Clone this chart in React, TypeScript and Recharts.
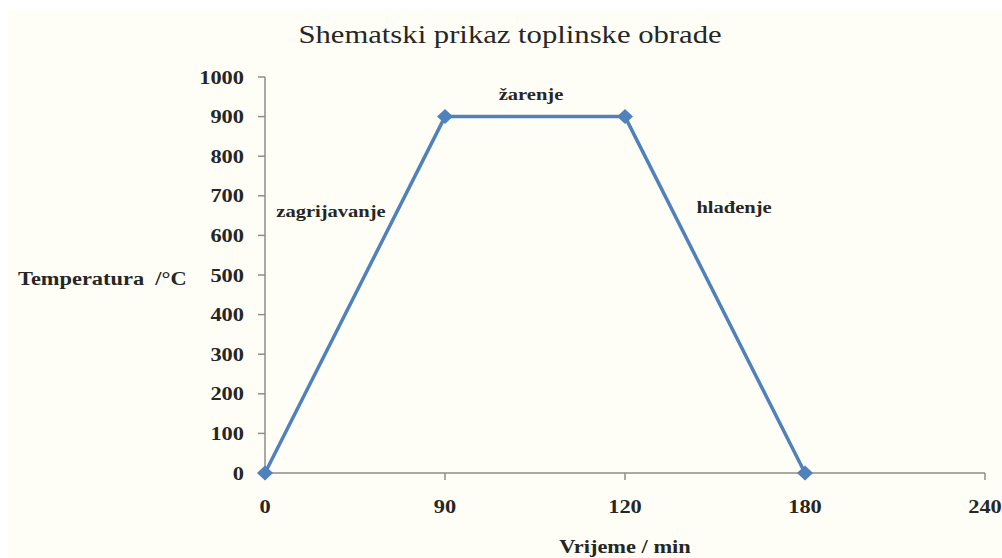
import React from 'react';
import { LineChart, Line, XAxis, YAxis, LabelList } from 'recharts';

const categories = ['0', '90', '120', '180', '240'];
const temperatures: (number | null)[] = [0, 900, 900, 0, null];
const yTicks = [0, 100, 200, 300, 400, 500, 600, 700, 800, 900, 1000];
const phaseLabels = ['', 'zagrijavanje', 'žarenje', 'hlađenje', ''];
const title = 'Shematski prikaz toplinske obrade';
const xTitle = 'Vrijeme / min';
const yTitle = 'Temperatura  /°C';

const data = categories.map((c, i) => ({ t: c, v: temperatures[i], lab: phaseLabels[i] }));

const FONT = '"Liberation Serif", "Times New Roman", serif';
const BLUE = '#4f81bd';
const AXIS = '#8c8c8c';
const INK = '#262626';
const SX = 1.18;

const Stretch = ({ x, y, anchor = 'middle', size = 19, bold = true, children }: any) => (
  <text
    x={0}
    y={0}
    transform={`translate(${x},${y}) scale(${SX},1)`}
    textAnchor={anchor}
    fontFamily={FONT}
    fontWeight={bold ? 'bold' : 'normal'}
    fontSize={size}
    fill={INK}
    style={{ whiteSpace: 'pre' }}
  >
    {children}
  </text>
);

const XTick = (props: any) => {
  const { x, y, payload } = props;
  return <Stretch x={x} y={y + 13}>{payload.value}</Stretch>;
};

const YTick = (props: any) => {
  const { x, y, payload } = props;
  return <Stretch x={x} y={y + 6.5} anchor="end">{payload.value}</Stretch>;
};

const XTitle = (props: any) => {
  const vb = props.viewBox;
  return <Stretch x={vb.x + vb.width / 2} y={vb.y + vb.height - 5}>{xTitle}</Stretch>;
};

const YTitle = (props: any) => {
  const vb = props.viewBox;
  return <Stretch x={vb.x + 18} y={vb.y + vb.height / 2 + 10} anchor="start">{yTitle}</Stretch>;
};

const PhaseLabel = (props: any) => {
  const { x, y, index } = props;
  const text = phaseLabels[index];
  if (!text) return null;
  let dx = 0;
  let dy = 0;
  if (index === 1) { dx = -114; dy = 100; }
  if (index === 2) { dx = -94; dy = -17; }
  if (index === 3) { dx = -71; dy = -260; }
  return <Stretch x={x + dx} y={y + dy} size={17.4}>{text}</Stretch>;
};

const Diamond = (p: any) =>
  p.value == null || p.cx == null ? (
    <g key={p.index} />
  ) : (
    <path
      key={p.index}
      d={`M${p.cx},${p.cy - 7.5}L${p.cx + 8},${p.cy}L${p.cx},${p.cy + 7.5}L${p.cx - 8},${p.cy}Z`}
      fill={BLUE}
    />
  );

export default function App() {
  return (
    <div style={{ position: 'fixed', left: 0, top: 0, width: 1002, height: 558, background: '#ffffff', overflow: 'hidden' }}>
      <div style={{ position: 'absolute', left: 8, top: 10, right: 0, bottom: 0, background: '#fffef6' }} />
      <svg style={{ position: 'absolute', left: 0, top: 0 }} width={1002} height={60}>
        <text
          x={0}
          y={0}
          transform={`translate(510,43) scale(${SX},1)`}
          textAnchor="middle"
          fontFamily={FONT}
          fontSize={26}
          fill={INK}
        >
          {title}
        </text>
      </svg>
      <div style={{ position: 'absolute', left: 0, top: 0 }}>
        <LineChart width={1002} height={558} data={data} margin={{ top: 77, right: 17, bottom: 0, left: 0 }}>
          <XAxis
            dataKey="t"
            height={85}
            stroke={AXIS}
            strokeWidth={1.5}
            tickLine={{ stroke: AXIS, strokeWidth: 1.5 }}
            tickSize={7}
            tickMargin={20}
            tick={<XTick />}
            label={<XTitle />}
          />
          <YAxis
            width={265}
            domain={[0, 1000]}
            ticks={yTicks}
            interval={0}
            stroke={AXIS}
            strokeWidth={1.5}
            tickLine={{ stroke: AXIS, strokeWidth: 1.5 }}
            tickSize={7}
            tickMargin={14}
            tick={<YTick />}
            label={<YTitle />}
          />
          <Line
            type="linear"
            dataKey="v"
            stroke={BLUE}
            strokeWidth={3.5}
            isAnimationActive={false}
            connectNulls={false}
            dot={Diamond}
            activeDot={false}
          >
            <LabelList dataKey="lab" content={PhaseLabel} />
          </Line>
        </LineChart>
      </div>
    </div>
  );
}
